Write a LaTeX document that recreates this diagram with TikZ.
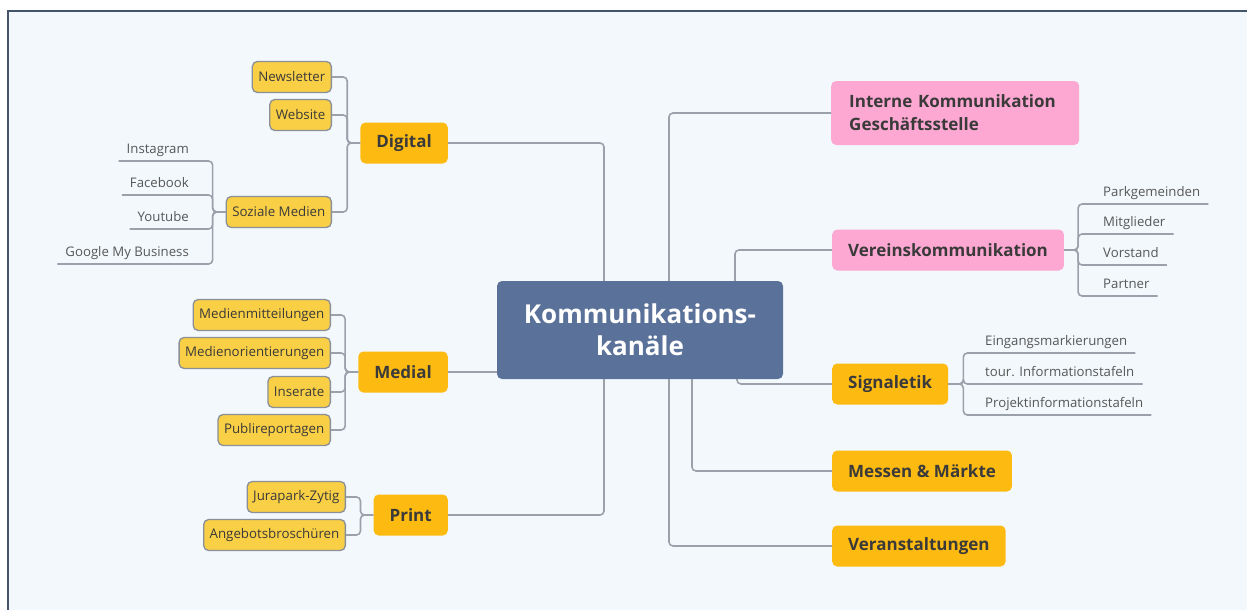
\documentclass[tikz,border=0pt]{standalone}
\usepackage{fontspec}
\setmainfont{Open Sans}
\definecolor{bgc}{HTML}{F3F8FC}
\definecolor{framec}{HTML}{44546A}
\definecolor{centerc}{HTML}{5A7199}
\definecolor{mainy}{HTML}{FDBB12}
\definecolor{suby}{HTML}{F9CF45}
\definecolor{subb}{HTML}{8A8F98}
\definecolor{pinkc}{HTML}{FDA8D2}
\definecolor{linec}{HTML}{9BA1AB}
\definecolor{txtc}{HTML}{3A3A3A}
\tikzset{
  conn/.style={draw=linec, line width=1.6pt, rounded corners=4pt},
  centerbox/.style={fill=centerc, rounded corners=5pt, minimum width=286pt, minimum height=98pt, align=center, text=white, font=\fontsize{26}{32}\selectfont\bfseries},
  mainbox/.style={fill=mainy, rounded corners=5pt, minimum height=41pt, inner xsep=16pt, text=txtc, font=\fontsize{17}{20}\selectfont\bfseries},
  pinkbox/.style={fill=pinkc, rounded corners=5pt, minimum height=41pt, inner xsep=16pt, text=txtc, font=\fontsize{17}{20}\selectfont\bfseries},
  subbox/.style={fill=suby, draw=subb, line width=1.3pt, rounded corners=5pt, minimum height=31pt, inner xsep=6pt, text=txtc, font=\fontsize{13.3}{16}\selectfont},
  leaf/.style={inner xsep=8pt, inner ysep=4pt, text height=10pt, text depth=3pt, text=txtc!85, font=\fontsize{13.2}{16}\selectfont},
}
\begin{document}
\begin{tikzpicture}[x=1pt,y=-1pt]
\useasboundingbox (0,0) rectangle (1247,610);
\fill[white] (0,0) rectangle (1247,610);
\fill[bgc] (8,11) rectangle (1247,610);
\draw[framec, line width=2.2pt] (8,610) -- (8,11) -- (1247,11);

% center
\node[centerbox] (C) at (640,330) {Kommunikations-\\kanäle};

% left main
\node[mainbox, anchor=east] (dig) at (448,143) {Digital};
\node[mainbox, anchor=east] (med) at (448,372) {Medial};
\node[mainbox, anchor=east] (pri) at (448,515) {Print};

% right main
\node[pinkbox, anchor=west, minimum height=64pt, text width=212pt, align=left, inner xsep=18pt, font=\fontsize{17}{23}\selectfont\bfseries] (int) at (831,113) {Interne Kommunikation\\Geschäftsstelle};
\node[pinkbox, anchor=west] (ver) at (832,250) {Vereinskommunikation};
\node[mainbox, anchor=west] (sig) at (832,384) {Signaletik};
\node[mainbox, anchor=west] (mes) at (832,471) {Messen \& Märkte};
\node[mainbox, anchor=west] (vst) at (832,546) {Veranstaltungen};

% center connectors
\draw[conn] (dig.east) -| ([xshift=-36pt]C.north);
\draw[conn] (med.east) -- (C.west |- med.east);
\draw[conn] (pri.east) -| ([xshift=-36pt]C.south);
\draw[conn] ([xshift=29pt]C.north) |- (int.west);
\draw[conn] ([xshift=95pt]C.north) |- (ver.west);
\draw[conn] ([xshift=97pt]C.south) |- (sig.west);
\draw[conn] ([xshift=52pt]C.south) |- (mes.west);
\draw[conn] ([xshift=29pt]C.south) |- (vst.west);

% Digital children
\node[subbox, anchor=east] (nl) at (332,77) {Newsletter};
\node[subbox, anchor=east] (web) at (332,115) {Website};
\node[subbox, anchor=east] (soz) at (332,212) {Soziale Medien};
\foreach \n in {nl,web,soz}{
  \draw[conn] (dig.west) -- ++(-13,0) |- (\n.east);
}
% Soziale Medien children
\node[leaf, anchor=south east] (ins) at (197,161) {Instagram};
\node[leaf, anchor=south east] (fb) at (197,195) {Facebook};
\node[leaf, anchor=south east] (yt) at (197,229) {Youtube};
\node[leaf, anchor=south east] (gmb) at (197,264) {Google My Business};
\foreach \n in {ins,fb,yt,gmb}{
  \draw[conn] (soz.west) -- ++(-13,0) |- (\n.south east) -- (\n.south west);
}

% Medial children
\node[subbox, anchor=east] (mm) at (331,315) {Medienmitteilungen};
\node[subbox, anchor=east] (mo) at (331,353) {Medienorientierungen};
\node[subbox, anchor=east] (ins2) at (331,392) {Inserate};
\node[subbox, anchor=east] (pub) at (331,430) {Publireportagen};
\foreach \n in {mm,mo,ins2,pub}{
  \draw[conn] (med.west) -- ++(-13,0) |- (\n.east);
}

% Print children
\node[subbox, anchor=east] (jz) at (346,497) {Jurapark-Zytig};
\node[subbox, anchor=east] (ab) at (346,535) {Angebotsbroschüren};
\foreach \n in {jz,ab}{
  \draw[conn] (pri.west) -- ++(-13,0) |- (\n.east);
}

% Vereins children
\node[leaf, anchor=south west] (pg) at (1095,204) {Parkgemeinden};
\node[leaf, anchor=south west] (mg) at (1095,234) {Mitglieder};
\node[leaf, anchor=south west] (vs) at (1095,265) {Vorstand};
\node[leaf, anchor=south west] (pt) at (1095,296) {Partner};
\foreach \n in {pg,mg,vs,pt}{
  \draw[conn] (ver.east) -- ++(14,0) |- (\n.south west) -- (\n.south east);
}

% Signaletik children
\node[leaf, anchor=south west] (em) at (977,353) {Eingangsmarkierungen};
\node[leaf, anchor=south west] (ti) at (977,384) {tour. Informationstafeln};
\node[leaf, anchor=south west] (pi) at (977,415) {Projektinformationstafeln};
\foreach \n in {em,ti,pi}{
  \draw[conn] (sig.east) -- ++(15,0) |- (\n.south west) -- (\n.south east);
}
\end{tikzpicture}
\end{document}
